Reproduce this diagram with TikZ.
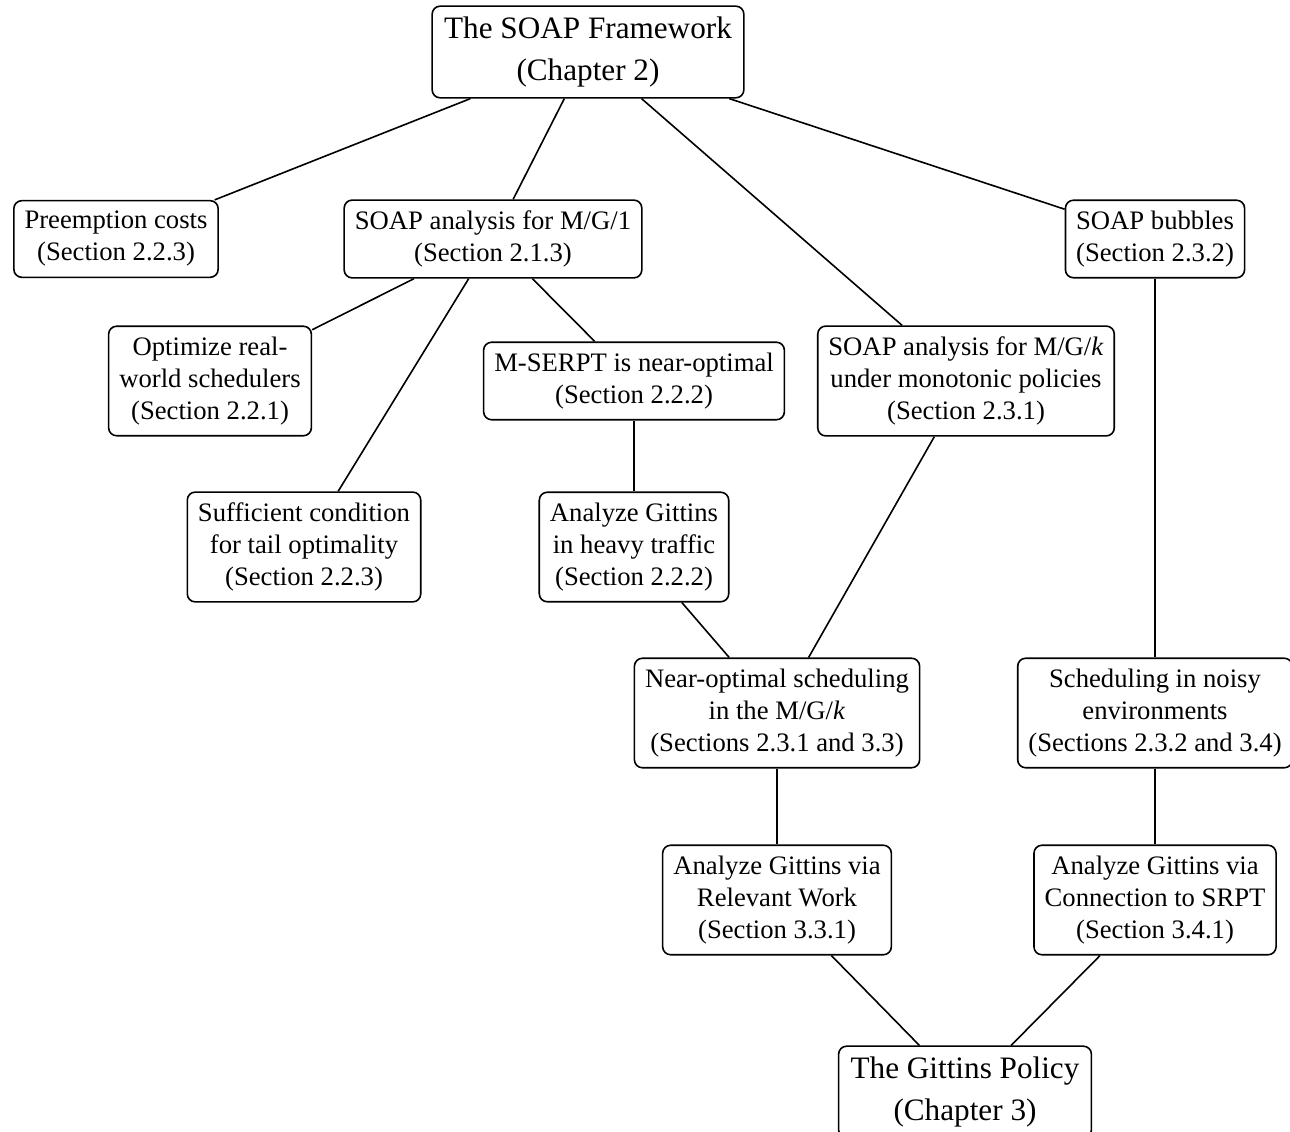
\documentclass[tikz,border=0pt]{standalone}
\usepackage{fontspec}
\setmainfont{Liberation Serif}
\usepackage{tikz}
\usetikzlibrary{positioning}
\usepackage{xcolor}

\tikzset{
  box/.style={draw, rectangle, rounded corners=3pt, line width=0.6pt, align=center, inner xsep=4pt, inner ysep=4pt, font=\fontsize{10}{12}\selectfont},
  bigbox/.style={box, font=\fontsize{11.7}{15.75}\selectfont, inner xsep=4.5pt},
  link/.style={line width=0.6pt}
}
\newcommand{\MGk}{M/G/\textit{k}}

\begin{document}
\begin{tikzpicture}[x=0.375pt, y=-0.375pt]
  \useasboundingbox (0,0) rectangle (1290,1132);

  \node[bigbox] (soap) at (588,52) {The SOAP Framework\\(Chapter 2)};

  \node[box] (preempt) at (116,239) {Preemption costs\\(Section 2.2.3)};
  \node[box] (mg1) at (493,239) {SOAP analysis for M/G/1\\(Section 2.1.3)};
  \node[box] (bubbles) at (1155,239) {SOAP bubbles\\(Section 2.3.2)};

  \node[box] (optimize) at (210,381) {Optimize real-\\world schedulers\\(Section 2.2.1)};
  \node[box] (mserpt) at (634,381) {M-SERPT is near-optimal\\(Section 2.2.2)};
  \node[box] (mgk) at (966,381) {SOAP analysis for \MGk\\under monotonic policies\\(Section 2.3.1)};

  \node[box] (tail) at (304,547) {Sufficient condition\\for tail optimality\\(Section 2.2.3)};
  \node[box] (heavy) at (634,547) {Analyze Gittins\\in heavy traffic\\(Section 2.2.2)};

  \node[box] (nearopt) at (777,713) {Near-optimal scheduling\\in the \MGk\\(Sections 2.3.1 and 3.3)};
  \node[box] (noisy) at (1155,713) {Scheduling in noisy\\environments\\(Sections 2.3.2 and 3.4)};

  \node[box] (relevant) at (777,900) {Analyze Gittins via\\Relevant Work\\(Section 3.3.1)};
  \node[box] (srpt) at (1155,900) {Analyze Gittins via\\Connection to SRPT\\(Section 3.4.1)};

  \node[bigbox] (gittins) at (965,1092) {The Gittins Policy\\(Chapter 3)};

  \draw[link] (soap) -- (preempt);
  \draw[link] (soap) -- (mg1);
  \draw[link] (soap) -- (mgk);
  \draw[link] (soap) -- (bubbles);
  \draw[link] (mg1) -- (optimize);
  \draw[link] (mg1) -- (tail);
  \draw[link] (mg1) -- (mserpt);
  \draw[link] (mserpt) -- (heavy);
  \draw[link] (heavy) -- (nearopt);
  \draw[link] (mgk) -- (nearopt);
  \draw[link] (bubbles) -- (noisy);
  \draw[link] (nearopt) -- (relevant);
  \draw[link] (noisy) -- (srpt);
  \draw[link] (relevant) -- (gittins);
  \draw[link] (srpt) -- (gittins);
\end{tikzpicture}
\end{document}
